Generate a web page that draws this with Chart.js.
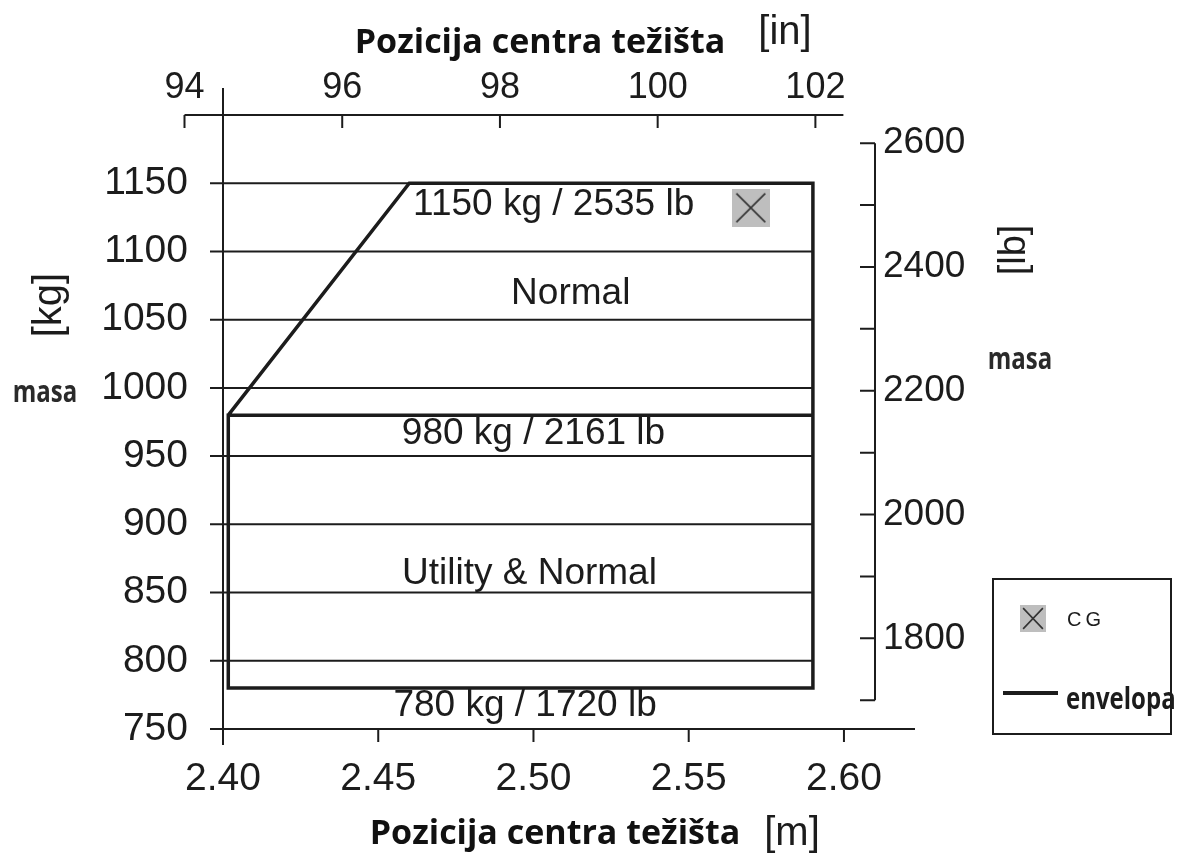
<!DOCTYPE html>
<html>
<head>
<meta charset="utf-8">
<title>Envelopa težišta</title>
<script src="https://cdn.jsdelivr.net/npm/chart.js@4.4.1/dist/chart.umd.min.js"></script>
<style>
  body { margin: 0; background: #fff; }
  #wrap { position: relative; width: 1181px; height: 854px; overflow: hidden; background: #fff; }
  #chart { position: absolute; left: 0; top: 0; }
  .lbl { position: absolute; transform: translate(-50%, -50%); white-space: nowrap; line-height: 1; color: #1c1c1c; }
  .thin { font-family: "Liberation Sans", Arial, sans-serif; }
  .bold { font-family: "Open Sans", sans-serif; font-weight: 700; }
  .title { font-size: 34px; color: #111; }
  .unit { font-size: 40px; }
  .masa { font-size: 30px; color: #2a2a2a; transform: translate(-50%, -50%) scaleX(0.8); }
  .rot { transform: translate(-50%, -50%) rotate(-90deg); }
  #legend { position: absolute; left: 992px; top: 578px; width: 176px; height: 153px; border: 2px solid #1c1c1c; }
  #legendCg { position: absolute; left: 26px; top: 25px; }
  #legend .cg { position: absolute; left: 73px; top: 29px; font-size: 20px; letter-spacing: 4px; line-height: 1; color: #1c1c1c; }
  #legend .envLine { position: absolute; left: 9px; top: 111px; width: 55px; height: 4px; background: #1c1c1c; }
  #legend .envTxt { position: absolute; left: 72px; top: 103px; font-size: 30px; line-height: 1; color: #1c1c1c; transform: scaleX(0.8); transform-origin: left center; }
</style>
</head>
<body>
<div id="wrap">
  <canvas id="chart" width="1181" height="854"></canvas>

  <div class="lbl bold title" style="left:540px; top:40px;">Pozicija centra težišta</div>
  <div class="lbl thin unit" style="left:785px; top:30px;">[in]</div>
  <div class="lbl bold title" style="left:555px; top:831px;">Pozicija centra težišta</div>
  <div class="lbl thin unit" style="left:792px; top:831px;">[m]</div>
  <div class="lbl thin unit rot" style="left:47px; top:305px;">[kg]</div>
  <div class="lbl thin rot" style="left:1012px; top:250px; font-size:38px;">[lb]</div>
  <div class="lbl bold masa" style="left:45px; top:391px;">masa</div>
  <div class="lbl bold masa" style="left:1020px; top:358px;">masa</div>

  <div id="legend">
    <canvas id="legendCg" width="26" height="27"></canvas>
    <span class="cg thin">CG</span>
    <div class="envLine"></div>
    <span class="envTxt bold">envelopa</span>
  </div>
</div>

<script>
// Axis ticks
const mTicks = [2.40, 2.45, 2.50, 2.55, 2.60];
const inTicks = [94, 96, 98, 100, 102];
const kgTicks = [750, 800, 850, 900, 950, 1000, 1050, 1100, 1150];
const lbTicks = [1700, 1800, 1900, 2000, 2100, 2200, 2300, 2400, 2500, 2600];
const lbLabels = [1800, 2000, 2200, 2400, 2600];

// Envelope outline (m, kg), drawn as one continuous path
const envelopeX = [2.59, 2.4017, 2.4017, 2.59, 2.59, 2.46, 2.4017];
const envelopeY = [980, 980, 780, 780, 1150, 1150, 980];

// Centre of gravity point
const cgX = [2.57];
const cgY = [1132];

// Mass limits and category names
const limitsKg = [1150, 980, 780];
const limitsLb = [2535, 2161, 1720];
const categories = ["Normal", "Utility & Normal"];

const IN = 0.0254;       // m per inch
const LB = 0.45359237;   // kg per lb
const ink = "#1c1c1c";
const thinFont = '"Liberation Sans", Arial, sans-serif';

// Grey square with an X, used for the CG point and in the legend
function cgMarker(w, h) {
  const c = document.createElement("canvas");
  c.width = w;
  c.height = h;
  const g = c.getContext("2d");
  g.fillStyle = "#bebebe";
  g.fillRect(0, 0, w, h);
  g.strokeStyle = "#333";
  g.lineWidth = 1.6;
  const p = w * 0.12;
  g.beginPath();
  g.moveTo(p, p);
  g.lineTo(w - p, h - p);
  g.moveTo(w - p, p);
  g.lineTo(p, h - p);
  g.stroke();
  return c;
}

document.getElementById("legendCg").getContext("2d").drawImage(cgMarker(26, 27), 0, 0);

// Text placed inside the envelope (data coordinates)
const zoneText = [
  { text: `${limitsKg[0]} kg / ${limitsLb[0]} lb`, x: 2.5065, y: 1134 },
  { text: categories[0], x: 2.512, y: 1069 },
  { text: `${limitsKg[1]} kg / ${limitsLb[1]} lb`, x: 2.500, y: 966 },
  { text: categories[1], x: 2.4987, y: 864 },
  { text: `${limitsKg[2]} kg / ${limitsLb[2]} lb`, x: 2.4973, y: 767 },
];

// Axis lines, tick marks and horizontal grid drawn by hand
const axisLines = {
  id: "axisLines",
  beforeDatasetsDraw(chart) {
    const { ctx, scales: { x, xTop, y, yRight } } = chart;
    const seg = (x1, y1, x2, y2) => { ctx.moveTo(x1, y1); ctx.lineTo(x2, y2); };
    ctx.save();
    ctx.strokeStyle = ink;
    ctx.lineWidth = 2;
    ctx.beginPath();

    // kg grid, ends at the right side of the envelope
    const gx0 = x.left - 13;
    const gx1 = x.getPixelForValue(Math.max(...envelopeX));
    kgTicks.slice(1).forEach((v) => {
      const py = y.getPixelForValue(v);
      seg(gx0, py, gx1, py);
    });
    const y750 = y.getPixelForValue(kgTicks[0]);
    seg(gx0, y750, x.left, y750);

    // left kg axis
    const x0 = x.getPixelForValue(mTicks[0]);
    seg(x0, y.top - 27, x0, y.bottom + 16);

    // bottom m axis
    seg(x.left - 11, y.bottom, x.right + 40, y.bottom);
    mTicks.forEach((v) => {
      const px = x.getPixelForValue(v);
      seg(px, y.bottom, px, y.bottom + 13);
    });

    // top inch axis
    const ty = xTop.bottom;
    seg(xTop.getPixelForValue(inTicks[0]), ty, xTop.getPixelForValue(inTicks[inTicks.length - 1]) + 28, ty);
    inTicks.forEach((v) => {
      const px = xTop.getPixelForValue(v);
      seg(px, ty, px, ty + 13);
    });

    // right lb axis
    const rx = yRight.left;
    seg(rx, yRight.getPixelForValue(lbTicks[lbTicks.length - 1]), rx, yRight.getPixelForValue(lbTicks[0]));
    lbTicks.forEach((v) => {
      const py = yRight.getPixelForValue(v);
      seg(rx - 15, py, rx, py);
    });

    ctx.stroke();
    ctx.restore();
  },
  afterDatasetsDraw(chart) {
    const { ctx, scales: { x, y } } = chart;
    ctx.save();
    ctx.fillStyle = ink;
    ctx.font = "37px " + thinFont;
    ctx.textAlign = "center";
    ctx.textBaseline = "middle";
    zoneText.forEach((t) => {
      ctx.fillText(t.text, x.getPixelForValue(t.x), y.getPixelForValue(t.y));
    });
    ctx.restore();
  },
};

const fixedTicks = (list) => (scale) => {
  scale.ticks = list.map((v) => ({ value: v }));
};

const tickFont = (size) => ({ family: thinFont, size: size });

new Chart(document.getElementById("chart"), {
  type: "scatter",
  data: {
    datasets: [
      {
        label: "envelopa",
        data: envelopeX.map((v, i) => ({ x: v, y: envelopeY[i] })),
        showLine: true,
        borderColor: ink,
        borderWidth: 3.5,
        pointRadius: 0,
        fill: false,
        xAxisID: "x",
        yAxisID: "y",
      },
      {
        label: "CG",
        data: cgX.map((v, i) => ({ x: v, y: cgY[i] })),
        pointStyle: cgMarker(38, 38),
        pointRadius: 19,
        showLine: false,
        xAxisID: "x",
        yAxisID: "y",
      },
    ],
  },
  options: {
    responsive: false,
    animation: false,
    layout: { padding: 0 },
    plugins: { legend: { display: false }, tooltip: { enabled: false } },
    scales: {
      x: {
        type: "linear",
        position: "bottom",
        min: 2.40,
        max: 2.61,
        grid: { display: false, drawTicks: false },
        border: { display: false },
        ticks: {
          font: tickFont(39), color: ink, padding: 27,
          autoSkip: false, maxRotation: 0, minRotation: 0,
          callback: (v) => Number(v).toFixed(2),
        },
        afterBuildTicks: fixedTicks(mTicks),
        afterFit: (s) => { s.height = 125; },
      },
      xTop: {
        type: "linear",
        position: "top",
        min: 2.40 / IN,
        max: 2.61 / IN,
        grid: { display: false, drawTicks: false },
        border: { display: false },
        ticks: {
          font: tickFont(36), color: ink, padding: 5,
          autoSkip: false, maxRotation: 0, minRotation: 0,
          callback: (v) => String(v),
        },
        afterBuildTicks: fixedTicks(inTicks),
        afterFit: (s) => { s.height = 115; },
      },
      y: {
        type: "linear",
        position: "left",
        min: 750,
        max: 1200,
        grid: { display: false, drawTicks: false },
        border: { display: false },
        ticks: {
          font: tickFont(39), color: ink, padding: 35,
          autoSkip: false, callback: (v) => String(v),
        },
        afterBuildTicks: fixedTicks(kgTicks),
        afterFit: (s) => { s.width = 223; },
      },
      yRight: {
        type: "linear",
        position: "right",
        min: 750 / LB,
        max: 1200 / LB,
        grid: { display: false, drawTicks: false },
        border: { display: false },
        ticks: {
          font: tickFont(37), color: ink, padding: 8,
          autoSkip: false,
          callback: (v) => (lbLabels.includes(v) ? String(v) : ""),
        },
        afterBuildTicks: fixedTicks(lbTicks),
        afterFit: (s) => { s.width = 306; },
      },
    },
  },
  plugins: [axisLines],
});
</script>
</body>
</html>
